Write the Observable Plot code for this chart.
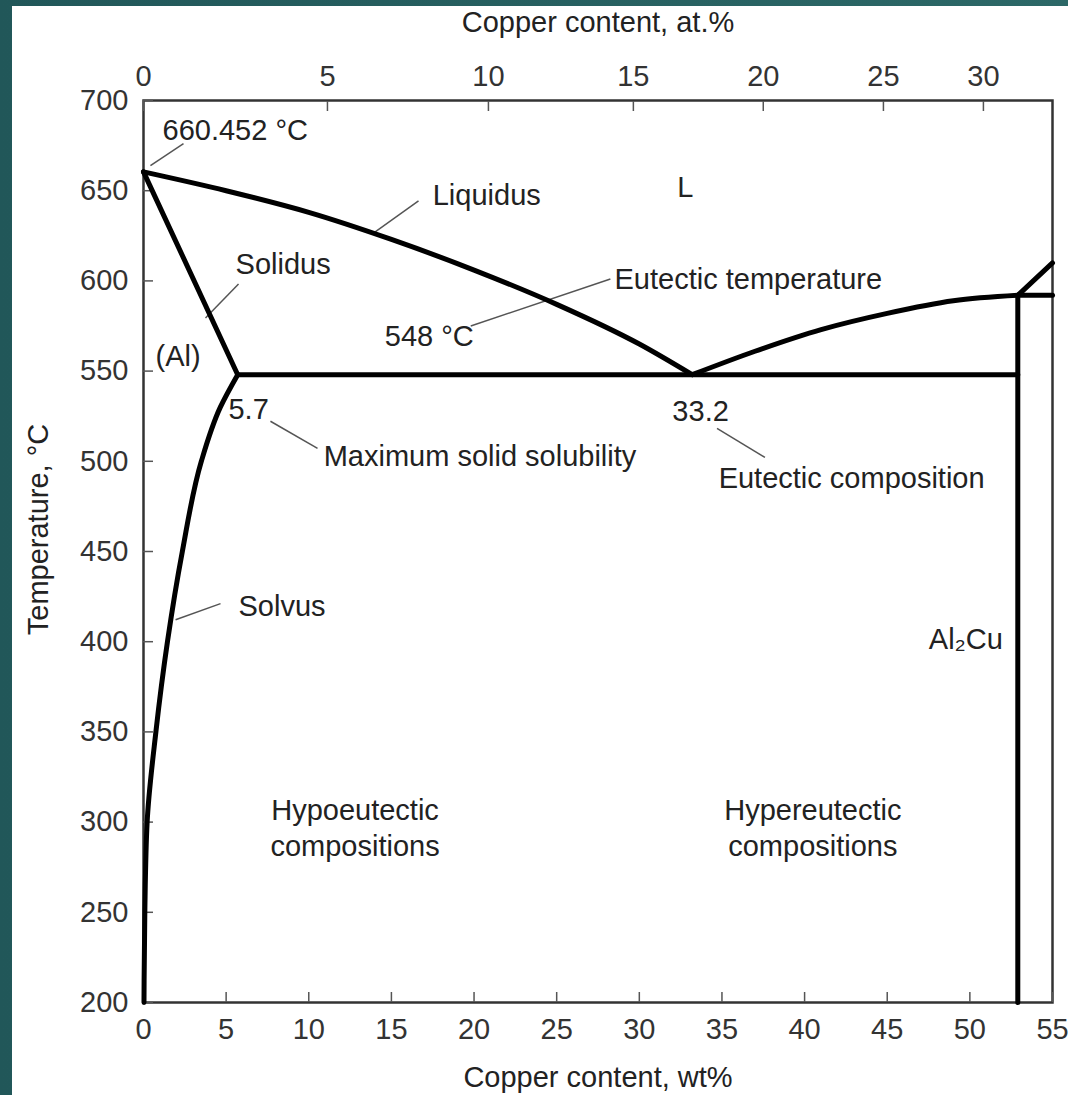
<!DOCTYPE html>
<html><head><meta charset="utf-8">
<script src="https://cdn.jsdelivr.net/npm/d3@7"></script>
<script src="https://cdn.jsdelivr.net/npm/@observablehq/plot@0.6"></script>
<style>
html,body{margin:0;padding:0;}
body{width:1068px;height:1095px;background:linear-gradient(90deg,#215759,#2c6867);position:relative;overflow:hidden;}
#chart{position:absolute;left:12px;top:6px;width:1056px;height:1089px;background:#fff;}
</style></head><body><div id="chart"></div>
<script>
// ---- data (wt% Cu, temperature °C) ----
const wtTicks = [0, 5, 10, 15, 20, 25, 30, 35, 40, 45, 50, 55];
const tempTicks = [200, 250, 300, 350, 400, 450, 500, 550, 600, 650, 700];
const atLabels = ["0", "5", "10", "15", "20", "25", "30"];
const atWtPositions = [0, 11.13, 20.87, 29.64, 37.5, 44.77, 50.82];

const liquidusAlWt = [0, 5, 10, 15, 20, 25, 30, 33.2];
const liquidusAlT  = [660.452, 650, 638, 623, 606, 587, 565, 548];
const liquidusThetaWt = [33.2, 37, 41, 45, 49, 52.9];
const liquidusThetaT  = [548, 561, 573, 582, 589, 592];
const upperLiquidusWt = [52.9, 55];
const upperLiquidusT  = [592, 610];
const peritecticWt = [52.9, 55];
const peritecticT  = [592, 592];
const solidusWt = [0, 5.7];
const solidusT  = [660.452, 548];
const solvusWt = [0.03, 0.08, 0.22, 0.75, 1.45, 2.35, 3.5, 4.65, 5.7];
const solvusT  = [200, 250, 300, 350, 400, 450, 500, 530, 548];
const eutecticWt = [5.7, 52.9];
const eutecticT  = [548, 548];
const al2cuWt = [52.9, 52.9];
const al2cuT  = [592, 200];

const labelTexts = ["660.452 °C", "Liquidus", "L", "Solidus", "(Al)", "548 °C", "Eutectic temperature",
  "5.7", "Maximum solid solubility", "33.2", "Eutectic composition", "Solvus", "Al₂Cu",
  "Hypoeutectic\ncompositions", "Hypereutectic\ncompositions"];
const labelWt = [1.15, 17.5, 32.3, 5.57, 0.73, 14.6, 28.5, 5.14, 10.9, 32.0, 34.8, 5.75, 52.0, 12.8, 40.5];
const labelT  = [684.4, 648.3, 652.8, 610, 559.4, 570.6, 601.7, 530, 503.9, 528.9, 491.7, 420.6, 402.2, 297.5, 297.5];
const labelAnchor = ["start","start","start","start","start","start","start","start","start","start","start","start","end","middle","middle"];

const leaderWt1 = [0.42, 13.85, 3.75, 19.8, 7.68, 34.7, 1.94];
const leaderT1  = [663.9, 626.1, 579.4, 575.0, 522.2, 518.3, 412.2];
const leaderWt2 = [2.42, 16.64, 5.75, 28.25, 10.53, 37.6, 4.66];
const leaderT2  = [676.1, 644.4, 598.3, 601.1, 507.2, 502.2, 421.1];

// ---- tables built from the arrays ----
const pts = (ws, ts) => ws.map((w, i) => ({w, t: ts[i]}));
const straights = [
  pts(upperLiquidusWt, upperLiquidusT),
  pts(peritecticWt, peritecticT),
  pts(solidusWt, solidusT),
  pts(eutecticWt, eutecticT),
  pts(al2cuWt, al2cuT)
];
const labels = labelTexts.map((text, i) => ({text, w: labelWt[i], t: labelT[i], a: labelAnchor[i]}));
const leaders = leaderWt1.map((w1, i) => ({w1, t1: leaderT1[i], w2: leaderWt2[i], t2: leaderT2[i]}));
const atMap = new Map(atWtPositions.map((p, i) => [p, atLabels[i]]));

const font = "'Liberation Sans', Arial, Helvetica, sans-serif";
const fs = 29;
const ink = "#222";

const marks = [
  Plot.frame({stroke: "#333", strokeWidth: 2.5}),
  Plot.axisX(wtTicks, {anchor: "bottom", tickSize: -10, tickPadding: 26, stroke: "#555", strokeWidth: 1.5, fill: "#333", fontSize: fs, label: null}),
  Plot.axisX(atWtPositions, {anchor: "top", tickSize: -10, tickPadding: 25, stroke: "#555", strokeWidth: 1.5, fill: "#333", fontSize: fs, tickFormat: d => atMap.get(d), label: null}),
  Plot.axisY(tempTicks, {anchor: "left", tickSize: -10, tickPadding: 25, stroke: "#555", strokeWidth: 1.5, fill: "#333", fontSize: fs, label: null}),
  Plot.text(["Copper content, wt%"], {frameAnchor: "bottom", dy: 75, lineAnchor: "middle", textAnchor: "middle", fontSize: fs, fill: ink}),
  Plot.text(["Copper content, at.%"], {frameAnchor: "top", dy: -78, lineAnchor: "middle", textAnchor: "middle", fontSize: fs, fill: ink}),
  Plot.text(["Temperature, °C"], {frameAnchor: "left", dx: -105, dy: -22, rotate: -90, lineAnchor: "middle", textAnchor: "middle", fontSize: fs, fill: ink}),
  Plot.link(leaders, {x1: "w1", y1: "t1", x2: "w2", y2: "t2", stroke: "#555", strokeWidth: 1.5}),
  Plot.line(pts(liquidusAlWt, liquidusAlT), {x: "w", y: "t", stroke: "#000", strokeWidth: 5, curve: "monotone-x"}),
  Plot.line(pts(liquidusThetaWt, liquidusThetaT), {x: "w", y: "t", stroke: "#000", strokeWidth: 5, curve: "monotone-x"}),
  Plot.line(pts(solvusWt, solvusT), {x: "w", y: "t", stroke: "#000", strokeWidth: 5, curve: "monotone-y"})
];
for (const s of straights) marks.push(Plot.line(s, {x: "w", y: "t", stroke: "#000", strokeWidth: 5}));
for (const a of ["start", "middle", "end"]) {
  marks.push(Plot.text(labels.filter(d => d.a === a), {x: "w", y: "t", text: "text", textAnchor: a, lineAnchor: "middle", fontSize: fs, fill: ink, lineHeight: 1.25}));
}

const chart = Plot.plot({
  width: 1056, height: 1089,
  marginLeft: 131, marginRight: 16, marginTop: 94, marginBottom: 93,
  style: {fontFamily: font, fontSize: fs + "px", color: ink, background: "#fff", overflow: "visible"},
  x: {domain: [0, 55]},
  y: {domain: [200, 700]},
  marks
});
document.getElementById("chart").appendChild(chart);
</script></body></html>
